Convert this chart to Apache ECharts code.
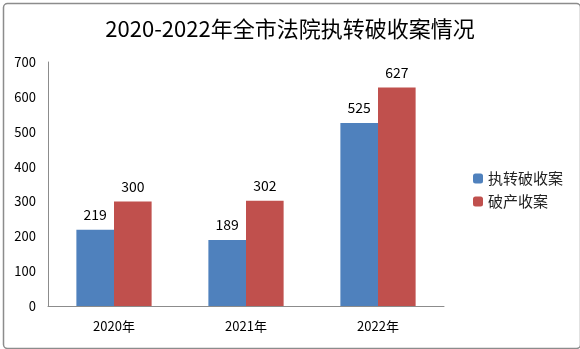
<!DOCTYPE html>
<html><head><meta charset="utf-8">
<script src="https://cdn.jsdelivr.net/npm/echarts@6/dist/echarts.min.js"></script>
<style>html,body{margin:0;padding:0;background:#fff}#c{width:580px;height:349px}</style>
</head><body><div id="c"></div>
<script>
const title = '2020-2022年全市法院执转破收案情况';
const categories = ['2020年', '2021年', '2022年'];
const seriesNames = ['执转破收案', '破产收案'];
const zhuanpo = [219, 189, 525];
const pochan = [300, 302, 627];
const yTicks = [0, 100, 200, 300, 400, 500, 600, 700];

const font = '"Noto Sans CJK SC", "Liberation Sans", sans-serif';
const chart = echarts.init(document.getElementById('c'));
chart.setOption({
  animation: false,
  backgroundColor: '#fff',
  textStyle: { fontFamily: font },
  graphic: [{
    type: 'rect', left: 1, top: 1, silent: true,
    shape: { width: 577, height: 345, r: 4 },
    style: { fill: 'none', stroke: '#8c8c8c', lineWidth: 1.5 }
  }],
  title: {
    text: title, left: 'center', top: 13,
    textStyle: { fontSize: 22, fontWeight: 'normal', color: '#000', fontFamily: font }
  },
  legend: {
    orient: 'vertical', left: 468, top: 166, itemWidth: 10, itemHeight: 10, itemGap: 8,
    textStyle: { fontSize: 15, color: '#222', fontFamily: font },
    data: seriesNames
  },
  grid: { left: 48, right: 136, top: 62, bottom: 43 },
  xAxis: {
    type: 'category', data: categories,
    axisLine: { lineStyle: { color: '#8c8c8c' } },
    axisTick: { show: false },
    axisLabel: { fontSize: 13, color: '#000', margin: 14 }
  },
  yAxis: {
    type: 'value', min: yTicks[0], max: yTicks[yTicks.length - 1], interval: 100,
    axisLine: { show: true, lineStyle: { color: '#8c8c8c' } },
    axisTick: { show: false },
    splitLine: { show: false },
    axisLabel: { fontSize: 13, color: '#000', margin: 12 }
  },
  series: [
    { name: seriesNames[0], type: 'bar', data: zhuanpo, barGap: '0%', barCategoryGap: '43%',
      itemStyle: { color: '#4f81bd' },
      label: { show: true, position: 'top', distance: 8, fontSize: 14, color: '#000' } },
    { name: seriesNames[1], type: 'bar', data: pochan,
      itemStyle: { color: '#c0504d' },
      label: { show: true, position: 'top', distance: 8, fontSize: 14, color: '#000' } }
  ]
});
</script></body></html>
